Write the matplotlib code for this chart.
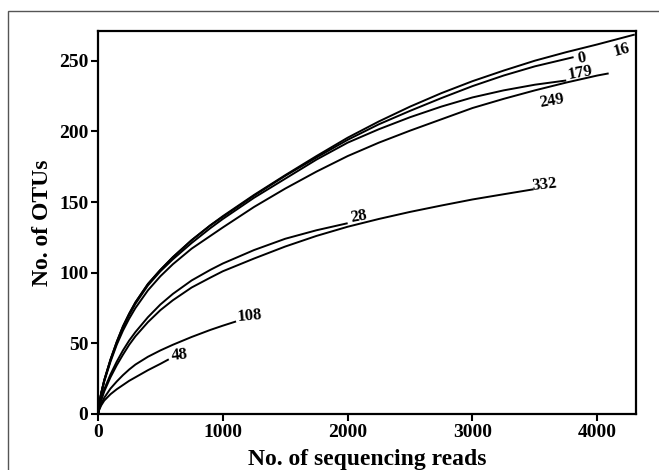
import matplotlib
matplotlib.use("Agg")
import matplotlib.pyplot as plt
from matplotlib.patches import Rectangle

plt.rcParams['font.family'] = ['Liberation Serif', 'DejaVu Serif']
plt.rcParams['font.weight'] = 'bold'

# Rarefaction curves (reads, OTUs)
xa = [0, 10, 25, 50, 100, 150, 200, 250, 300, 400, 500, 600, 750, 900, 1000,
      1250, 1500, 1750, 2000, 2250, 2500, 2750, 3000, 3250, 3500, 3750, 4000]

x16 = xa + [4300]
y16 = [0, 7, 14.5, 24, 38.5, 51, 62, 71, 79, 92, 102, 111, 123, 133.5, 140,
       155, 169, 182.5, 195.5, 207, 217.5, 227, 235.5, 243, 250, 256, 261.5, 268.5]

x0 = xa[:24] + [3500, 3810]
y0 = [0, 7, 14.5, 24, 38.5, 51, 62, 71, 79, 92, 102, 111, 123, 133.5, 139.5,
      154.5, 168.5, 181.5, 194, 205, 214.5, 223.5, 232, 239.5, 246, 252.5]

x179 = xa[:25] + [3751]
y179 = [0, 7, 14.5, 23.5, 38, 50, 61, 70, 78, 91, 101, 109.5, 121, 131.5, 138,
        153, 166.5, 180, 192, 201.5, 210, 217.5, 224, 229, 233, 236]

x249 = xa + [4091]
y249 = [0, 7, 14, 23, 37, 49, 59, 67.5, 75, 87.5, 97.5, 106, 117, 126, 132,
        146.5, 159.5, 171.5, 182.5, 192, 200.5, 208.5, 216.5, 223, 229, 234.5, 239.5, 241]

x28 = xa[:19]
y28 = [0, 5, 10.5, 17.5, 28, 37, 45, 52, 58, 68.5, 77.5, 85, 94.5, 102, 106.5,
       116, 124, 130, 135]

x332 = xa[:24] + [3490]
y332 = [0, 4.5, 9.5, 16, 26, 34.5, 42, 49, 55, 65, 73.5, 80.5, 89.5, 96.5, 101,
        110, 118.5, 126, 132.5, 138, 143, 147.5, 151.8, 155.5, 159]

x108 = xa[:15] + [1106]
y108 = [0, 3.5, 7, 11.5, 18, 23, 27.5, 31.5, 35, 40.5, 45, 49, 54.5, 59.5, 62.5, 65.5]

x48 = xa[:11] + [567]
y48 = [0, 3, 6, 9.5, 14, 17.5, 20.5, 23.5, 26, 31, 35.5, 38.7]

curves = [(x16, y16), (x0, y0), (x179, y179), (x249, y249),
          (x28, y28), (x332, y332), (x108, y108), (x48, y48)]

label_text = ['16', '0', '179', '249', '28', '332', '108', '48']
label_x = [4198, 3877, 3864, 3637, 2087, 3575, 1218, 657]
label_y = [257.8, 252, 241.5, 221.5, 139.7, 162.4, 69.4, 41.8]
label_rot = [15, 10, 10, 10, 10, 6, 5, 6]

x_ticks = [0, 1000, 2000, 3000, 4000]
y_ticks = [0, 50, 100, 150, 200, 250]

fig = plt.figure(figsize=(6.59, 4.70), dpi=100)
fig.patches.append(Rectangle((8/659, -0.2), 2.0, 1 - 11/470 + 0.2,
                             transform=fig.transFigure, fill=False,
                             edgecolor='#555555', linewidth=1.0))
ax = fig.add_axes([98/659, 56/470, 538/659, 383/470])

for xs, ys in curves:
    ax.plot(xs, ys, color='black', linewidth=1.4, solid_capstyle='butt',
            solid_joinstyle='round')

for t, lx, ly, r in zip(label_text, label_x, label_y, label_rot):
    ax.text(lx, ly, t, ha='center', va='center', rotation=r,
            fontsize=12, fontweight='bold')

ax.set_xlim(0, 4310)
ax.set_ylim(0, 271)
ax.set_xticks(x_ticks)
ax.set_yticks(y_ticks)
ax.tick_params(direction='out', length=5, width=1.5, labelsize=14, pad=2)
for lab in ax.get_xticklabels() + ax.get_yticklabels():
    lab.set_fontweight('bold')
for s in ax.spines.values():
    s.set_linewidth(1.6)

ax.set_xlabel('No. of sequencing reads', fontsize=17, fontweight='bold', labelpad=6)
ax.set_ylabel('No. of OTUs', fontsize=17, fontweight='bold', labelpad=4)

fig.savefig('out.png', dpi=100)
